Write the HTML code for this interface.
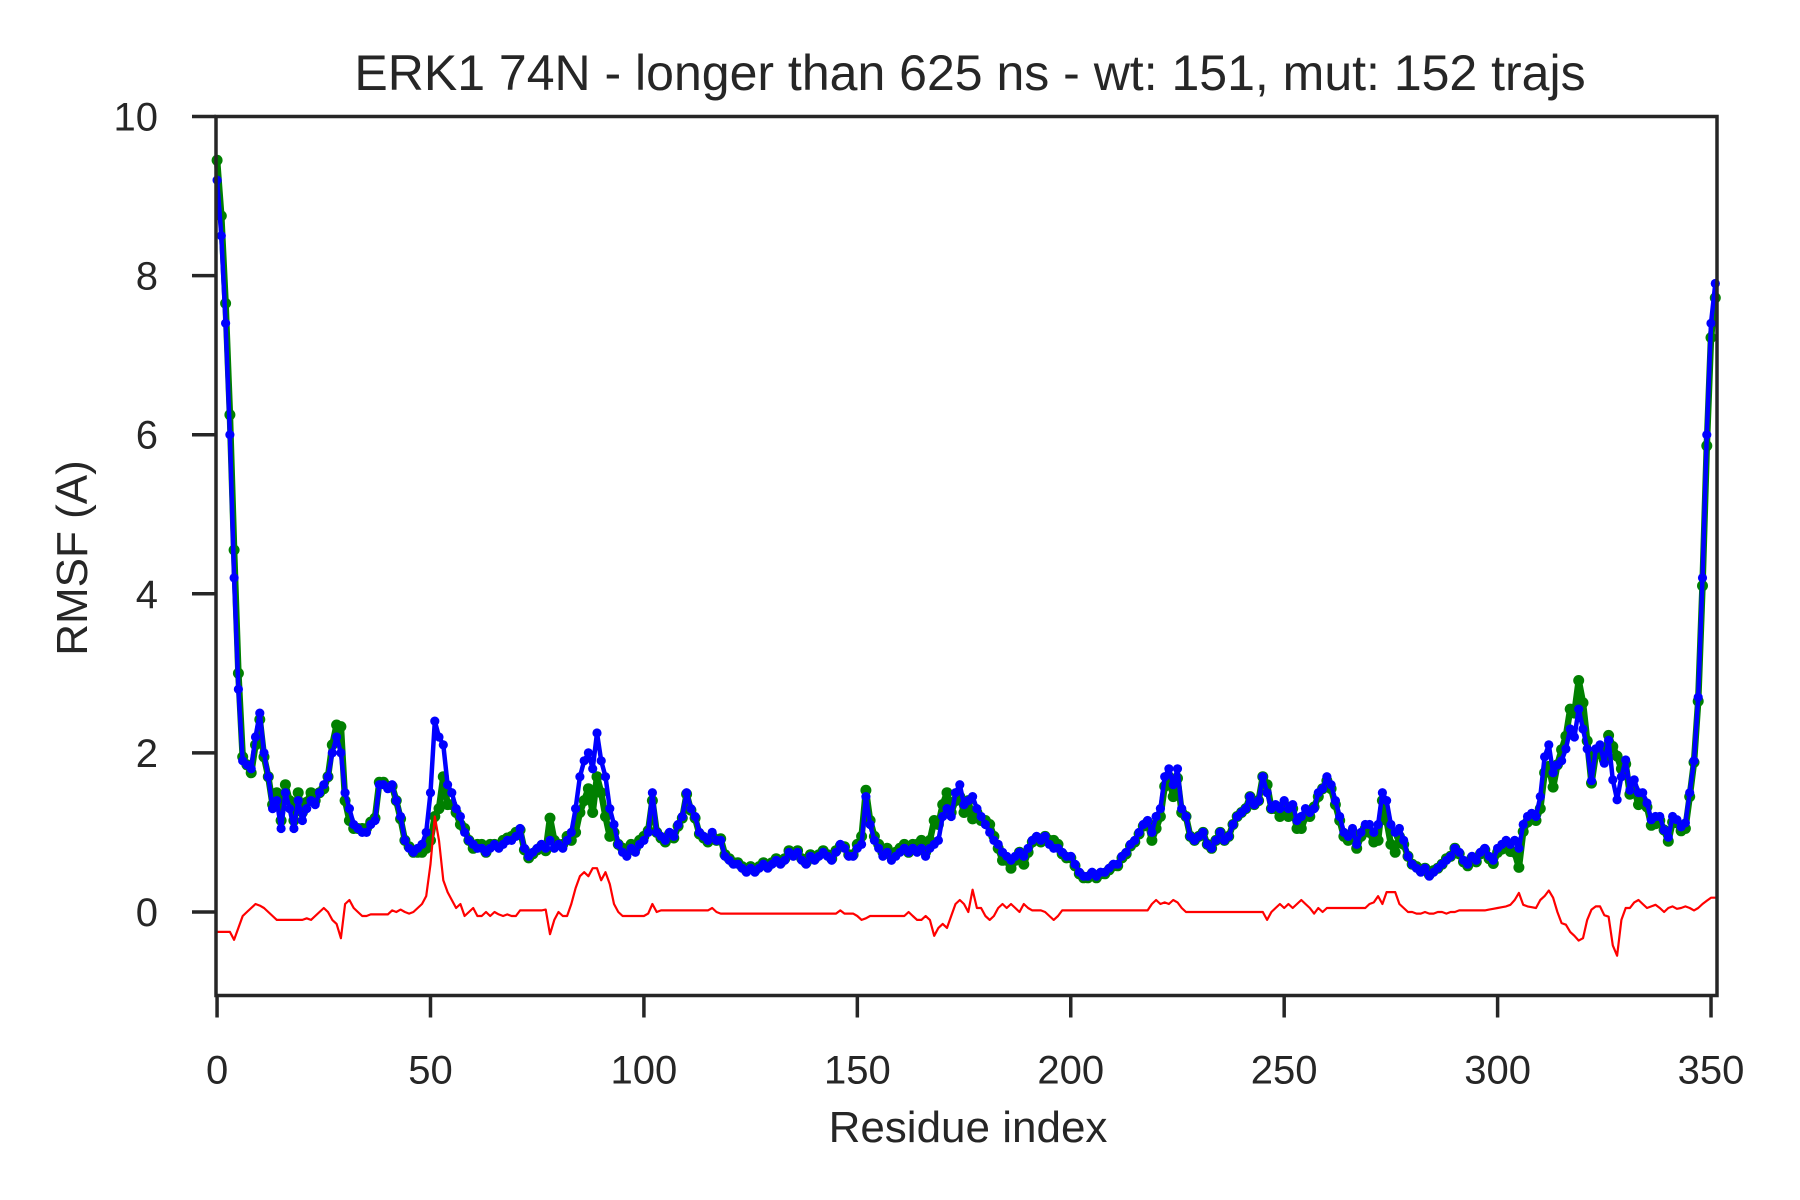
<!DOCTYPE html>
<html><head><meta charset="utf-8">
<style>
html,body{margin:0;padding:0;background:#fff;}
svg{display:block;font-family:"Liberation Sans",Arial,sans-serif;}
</style></head>
<body>
<svg id="chart" width="1800" height="1200" viewBox="0 0 1800 1200" xmlns="http://www.w3.org/2000/svg">
<rect x="0" y="0" width="1800" height="1200" fill="#fff"/>
<text x="970" y="90" font-size="50" fill="#262626" text-anchor="middle">ERK1 74N - longer than 625 ns - wt: 151, mut: 152 trajs</text>
<g id="plot"></g>
<g id="axes"></g>
<text x="968" y="1142" font-size="44" fill="#262626" text-anchor="middle">Residue index</text>
<text x="0" y="0" font-size="44" fill="#262626" text-anchor="middle" transform="translate(87,558) rotate(-90)">RMSF (A)</text>
</svg>
<script>
const xTicks=[0,50,100,150,200,250,300,350];
const yTicks=[0,2,4,6,8,10];
const mutRmsf=[9.2,8.5,7.4,6.0,4.2,2.8,1.9,1.85,1.8,2.2,2.5,2.0,1.7,1.3,1.4,1.05,1.5,1.3,1.05,1.4,1.15,1.3,1.4,1.35,1.5,1.6,1.7,2.0,2.2,2.0,1.5,1.3,1.1,1.05,1.0,1.0,1.1,1.15,1.6,1.6,1.55,1.6,1.4,1.2,0.9,0.8,0.75,0.8,0.85,1.0,1.5,2.4,2.2,2.1,1.6,1.5,1.3,1.2,1.0,0.9,0.85,0.8,0.8,0.75,0.8,0.85,0.8,0.85,0.9,0.9,0.95,1.05,0.8,0.7,0.75,0.8,0.85,0.8,0.9,0.8,0.85,0.8,0.9,1.0,1.3,1.7,1.9,2.0,1.8,2.25,1.9,1.7,1.3,1.1,0.85,0.75,0.7,0.8,0.75,0.85,0.9,1.0,1.5,1.0,0.95,0.9,1.0,0.95,1.1,1.2,1.5,1.3,1.2,1.0,0.95,0.9,1.0,0.9,0.9,0.7,0.65,0.6,0.6,0.55,0.5,0.55,0.5,0.55,0.6,0.55,0.6,0.65,0.6,0.65,0.75,0.7,0.75,0.65,0.6,0.7,0.65,0.7,0.75,0.7,0.65,0.75,0.85,0.8,0.7,0.7,0.8,0.85,1.45,1.1,0.9,0.8,0.7,0.75,0.65,0.7,0.75,0.8,0.75,0.8,0.75,0.8,0.7,0.8,0.85,0.9,1.2,1.3,1.2,1.5,1.6,1.35,1.4,1.45,1.3,1.2,1.1,1.0,0.9,0.85,0.75,0.7,0.65,0.7,0.75,0.7,0.8,0.9,0.95,0.9,0.95,0.85,0.8,0.8,0.75,0.7,0.7,0.6,0.5,0.45,0.45,0.5,0.45,0.5,0.5,0.55,0.6,0.6,0.7,0.75,0.85,0.9,1.0,1.1,1.15,1.0,1.2,1.3,1.7,1.8,1.6,1.8,1.3,1.2,0.95,0.9,0.95,1.0,0.85,0.8,0.9,1.0,0.9,0.95,1.1,1.2,1.25,1.3,1.45,1.35,1.4,1.7,1.5,1.3,1.35,1.3,1.4,1.3,1.35,1.15,1.2,1.3,1.25,1.3,1.5,1.55,1.7,1.6,1.4,1.2,1.0,0.95,1.05,0.85,1.0,1.1,1.1,1.0,1.1,1.5,1.4,1.1,1.0,1.05,0.9,0.7,0.6,0.55,0.5,0.55,0.45,0.5,0.55,0.6,0.65,0.7,0.8,0.75,0.65,0.6,0.7,0.65,0.75,0.8,0.7,0.65,
0.8,0.85,0.9,0.85,0.9,0.8,1.1,1.2,1.24,1.2,
1.45,1.95,2.1,1.75,1.85,1.9,2.05,2.3,2.2,2.55,
2.3,2.05,1.65,2.05,2.1,1.87,2.16,1.66,1.41,1.7,
1.91,1.53,1.66,1.5,1.5,1.37,1.16,1.2,1.2,1.03,
0.94,1.2,1.16,1.07,1.12,1.5,1.9,2.7,4.2,6.0,
7.4,7.9];
const diffRmsf=[-0.25,-0.25,-0.25,-0.25,-0.35,-0.2,-0.05,0,0.05,0.1,
0.08,0.05,0,-0.05,-0.1,-0.1,-0.1,-0.1,-0.1,-0.1,
-0.1,-0.08,-0.1,-0.05,0,0.05,0,-0.1,-0.15,-0.33,
0.1,0.15,0.05,0,-0.05,-0.05,-0.03,-0.03,-0.03,-0.03,
-0.03,0.02,0,0.03,0,-0.02,0,0.05,0.1,0.2,
0.6,1.2,0.9,0.4,0.25,0.15,0.05,0.1,-0.05,0,
0.05,-0.05,-0.05,0,-0.05,0,-0.03,-0.05,-0.03,-0.05,
-0.05,0.02,0.02,0.02,0.02,0.02,0.02,0.03,-0.28,-0.1,
0,-0.05,-0.05,0.1,0.3,0.45,0.5,0.45,0.55,0.55,
0.4,0.5,0.35,0.1,0,-0.05,-0.05,-0.05,-0.05,-0.05,
-0.05,-0.02,0.1,0,0.02,0.02,0.02,0.02,0.02,0.02,
0.02,0.02,0.02,0.02,0.02,0.02,0.05,0,-0.02,-0.02,
-0.02,-0.02,-0.02,-0.02,-0.02,-0.02,-0.02,-0.02,-0.02,-0.02,
-0.02,-0.02,-0.02,-0.02,-0.02,-0.02,-0.02,-0.02,-0.02,-0.02,
-0.02,-0.02,-0.02,-0.02,-0.02,-0.02,0.02,-0.02,-0.02,-0.02,
-0.05,-0.1,-0.08,-0.05,-0.05,-0.05,-0.05,-0.05,-0.05,-0.05,
-0.05,-0.05,0,-0.05,-0.1,-0.1,-0.05,-0.1,-0.3,-0.2,
-0.15,-0.2,-0.05,0.1,0.15,0.1,0,0.28,0.05,0.05,
-0.05,-0.1,-0.05,0.05,0.1,0.05,0.1,0.05,0,0.1,
0.05,0.02,0.02,0.02,0,-0.05,-0.1,-0.05,0.02,0.02,
0.02,0.02,0.02,0.02,0.02,0.02,0.02,0.02,0.02,0.02,
0.02,0.02,0.02,0.02,0.02,0.02,0.02,0.02,0.02,0.1,
0.15,0.1,0.12,0.1,0.15,0.12,0.05,0,0,0,
0,0,0,0,0,0,0,0,0,0,
0,0,0,0,0,0,-0.1,0,0.05,0.1,
0.05,0.1,0.05,0.1,0.15,0.1,0.05,-0.02,0.05,0,
0.05,0.05,0.05,0.05,0.05,0.05,0.05,0.05,0.05,0.05,
0.1,0.12,0.2,0.1,0.25,0.25,0.25,0.1,0.05,0,
0,-0.02,-0.02,0,-0.02,-0.02,0,0,-0.02,0,
0,0.02,0.02,0.02,0.02,0.02,0.02,0.02,0.03,0.04,
0.05,0.06,0.07,0.09,0.15,0.24,0.09,0.07,0.06,0.05,
0.15,0.2,0.27,0.18,0,-0.14,-0.16,-0.25,-0.3,-0.36,
-0.33,-0.1,0.03,0.07,0.07,-0.04,-0.06,-0.42,-0.55,-0.1,
0.05,0.05,0.12,0.15,0.1,0.05,0.07,0.09,0.05,0,
0.05,0.07,0.04,0.05,0.07,0.05,0.02,0.05,0.1,0.14,
0.18,0.18];

const NS='http://www.w3.org/2000/svg';
const L=216,R=1717,T=116.5,B=995.5;
const xMin=-0.25,xMax=351.4,yMin=-1.05,yMax=10;
function xs(v){return L+(v-xMin)/(xMax-xMin)*(R-L);}
function ys(v){return B-(v-yMin)/(yMax-yMin)*(B-T);}
const plot=document.getElementById('plot');
const axes=document.getElementById('axes');
function mk(tag,attrs,parent){const e=document.createElementNS(NS,tag);for(const k in attrs)e.setAttribute(k,attrs[k]);parent.appendChild(e);return e;}

const wtRmsf=mutRmsf.map((m,i)=>+(m-(diffRmsf[i]||0)).toFixed(3));

function series(vals,color,lw,r,name){
  const g=mk('g',{},plot);
  
  
  const pts=vals.map((v,i)=>xs(i).toFixed(1)+','+ys(v).toFixed(1)).join(' ');
  const pl=mk('polyline',{points:pts,fill:'none',stroke:color,'stroke-width':lw,'stroke-linejoin':'round','stroke-linecap':'round'},g);
  
  
  if(r>0){vals.forEach((v,i)=>{
    const c=mk('circle',{cx:xs(i).toFixed(1),cy:ys(v).toFixed(1),r:r,fill:color},g);
    
    
  });}
}
series(wtRmsf,'#008000',6.5,5.5,'wt-series');
series(mutRmsf,'#0000ff',4.5,4.6,'mut-series');
series(diffRmsf,'#ff0000',2.2,0,'diff-series');

const fr=mk('rect',{x:L,y:T,width:R-L,height:B-T,fill:'none',stroke:'#262626','stroke-width':3.5},axes);


xTicks.forEach(t=>{
  const x=xs(t);
  const tk=mk('line',{x1:x,x2:x,y1:B,y2:B+22,stroke:'#262626','stroke-width':3.5},axes);
  
  
  const lb=mk('text',{x:x,y:B+88,'font-size':40,fill:'#262626','text-anchor':'middle'},axes);
  lb.textContent=String(t);
  
  
});
yTicks.forEach(t=>{
  const y=ys(t);
  const tk=mk('line',{x1:L-24,x2:L,y1:y,y2:y,stroke:'#262626','stroke-width':3.5},axes);
  
  
  const lb=mk('text',{x:L-58,y:y+14,'font-size':40,fill:'#262626','text-anchor':'end'},axes);
  lb.textContent=String(t);
  
  
});
</script>
</body></html>
